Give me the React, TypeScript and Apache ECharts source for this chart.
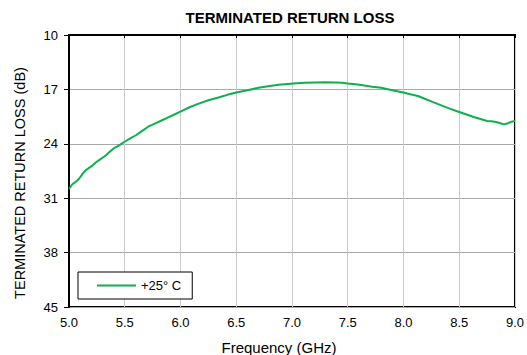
import React, { useEffect, useRef } from "react";
import * as echarts from "echarts";

const frequencyGHz = [
  5.0, 5.03, 5.06, 5.09, 5.12, 5.15, 5.18, 5.21, 5.24, 5.27, 5.3, 5.33, 5.36, 5.4, 5.45, 5.49,
  5.55, 5.6, 5.65, 5.71, 5.77, 5.83, 5.89, 5.95, 6.0, 6.08, 6.17, 6.25, 6.34, 6.42, 6.5, 6.6,
  6.7, 6.8, 6.88, 6.96, 7.04, 7.12, 7.21, 7.3, 7.39, 7.45, 7.5, 7.57, 7.65, 7.72, 7.8, 7.9,
  8.0, 8.07, 8.13, 8.19, 8.26, 8.34, 8.42, 8.5, 8.56, 8.63, 8.69, 8.75, 8.79, 8.83, 8.87, 8.9,
  8.93, 8.96, 9.0,
];
const returnLossDb = [
  29.8, 29.2, 28.9, 28.5, 27.9, 27.4, 27.1, 26.8, 26.4, 26.1, 25.8, 25.5, 25.1, 24.6, 24.2, 23.8,
  23.3, 22.9, 22.4, 21.8, 21.4, 21.0, 20.6, 20.2, 19.85, 19.3, 18.8, 18.4, 18.05, 17.7, 17.4, 17.1,
  16.8, 16.55, 16.4, 16.3, 16.2, 16.15, 16.1, 16.08, 16.1, 16.15, 16.25, 16.35, 16.5, 16.65, 16.8, 17.1,
  17.4, 17.65, 17.85, 18.2, 18.6, 19.05, 19.5, 19.9, 20.2, 20.55, 20.8, 21.07, 21.1, 21.2, 21.35, 21.5,
  21.4, 21.2, 21.05,
];
const yTickStart = 10;
const yTickEnd = 45;
const yTickStep = 7;
const xMin = 5.0;
const xMax = 9.0;
const xStep = 0.5;

const seriesName = "+25° C";
const titleText = "TERMINATED RETURN LOSS";
const yAxisTitle = "TERMINATED RETURN LOSS (dB)";
const xAxisTitle = "Frequency (GHz)";

const FONT = "'Liberation Sans', Arial, Helvetica, sans-serif";

export default function App() {
  const ref = useRef<HTMLDivElement>(null);
  useEffect(() => {
    if (!ref.current) return;
    const chart = echarts.init(ref.current, undefined, { renderer: "svg" });
    const data = frequencyGHz.map((f, i) => [f, returnLossDb[i] - yTickStart]);
    chart.setOption({
      animation: false,
      backgroundColor: "#fff",
      textStyle: { fontFamily: FONT },
      grid: { left: 69, right: 9, top: 35, bottom: 48, show: true, borderColor: "#000", borderWidth: 2, backgroundColor: "transparent" },
      xAxis: {
        type: "value",
        min: xMin,
        max: xMax,
        interval: xStep,
        axisLine: { show: true, lineStyle: { color: "#000", width: 2 } },
        axisTick: { show: true, length: 3, lineStyle: { color: "#000", width: 1 } },
        axisLabel: { color: "#000", fontSize: 13, fontFamily: FONT, margin: 9, formatter: (v: number) => v.toFixed(1) },
        splitLine: { show: true, lineStyle: { color: "#cbcbcb", width: 1 } },
      },
      yAxis: {
        type: "value",
        inverse: true,
        min: 0,
        max: yTickEnd - yTickStart,
        interval: yTickStep,
        axisLine: { show: true, lineStyle: { color: "#000", width: 2 } },
        axisTick: { show: true, length: 5, lineStyle: { color: "#000", width: 1 } },
        axisLabel: { color: "#000", fontSize: 13, fontFamily: FONT, margin: 11, formatter: (v: number) => String(v + yTickStart) },
        splitLine: { show: true, lineStyle: { color: "#a8a8a8", width: 1 } },
      },
      legend: {
        show: true,
        left: 78,
        top: 272,
        orient: "horizontal",
        backgroundColor: "#fff",
        borderColor: "#000",
        borderWidth: 1,
        borderRadius: 0,
        padding: [6, 11, 6, 19],
        itemWidth: 39,
        itemHeight: 2,
        itemGap: 5,
        icon: "rect",
        textStyle: { color: "#000", fontSize: 13, fontFamily: FONT, lineHeight: 15 },
        data: [seriesName],
      },
      graphic: [
        {
          type: "text",
          x: 290,
          y: 17,
          style: { text: titleText, font: `bold 15px ${FONT}`, fill: "#000", textAlign: "center", textVerticalAlign: "middle" },
        },
        {
          type: "text",
          x: 20,
          y: 183,
          rotation: Math.PI / 2,
          style: { text: yAxisTitle, font: `14.5px ${FONT}`, fill: "#000", textAlign: "center", textVerticalAlign: "middle" },
        },
        {
          type: "text",
          x: 279,
          y: 347,
          style: { text: xAxisTitle, font: `15px ${FONT}`, fill: "#000", textAlign: "center", textVerticalAlign: "middle" },
        },
      ],
      series: [
        {
          name: seriesName,
          type: "line",
          data,
          symbol: "none",
          smooth: false,
          lineStyle: { color: "#0db04d", width: 2 },
          itemStyle: { color: "#0db04d" },
        },
      ],
    });
    return () => chart.dispose();
  }, []);
  return <div ref={ref} style={{ position: "absolute", left: 0, top: 0, width: 527, height: 355 }} />;
}
